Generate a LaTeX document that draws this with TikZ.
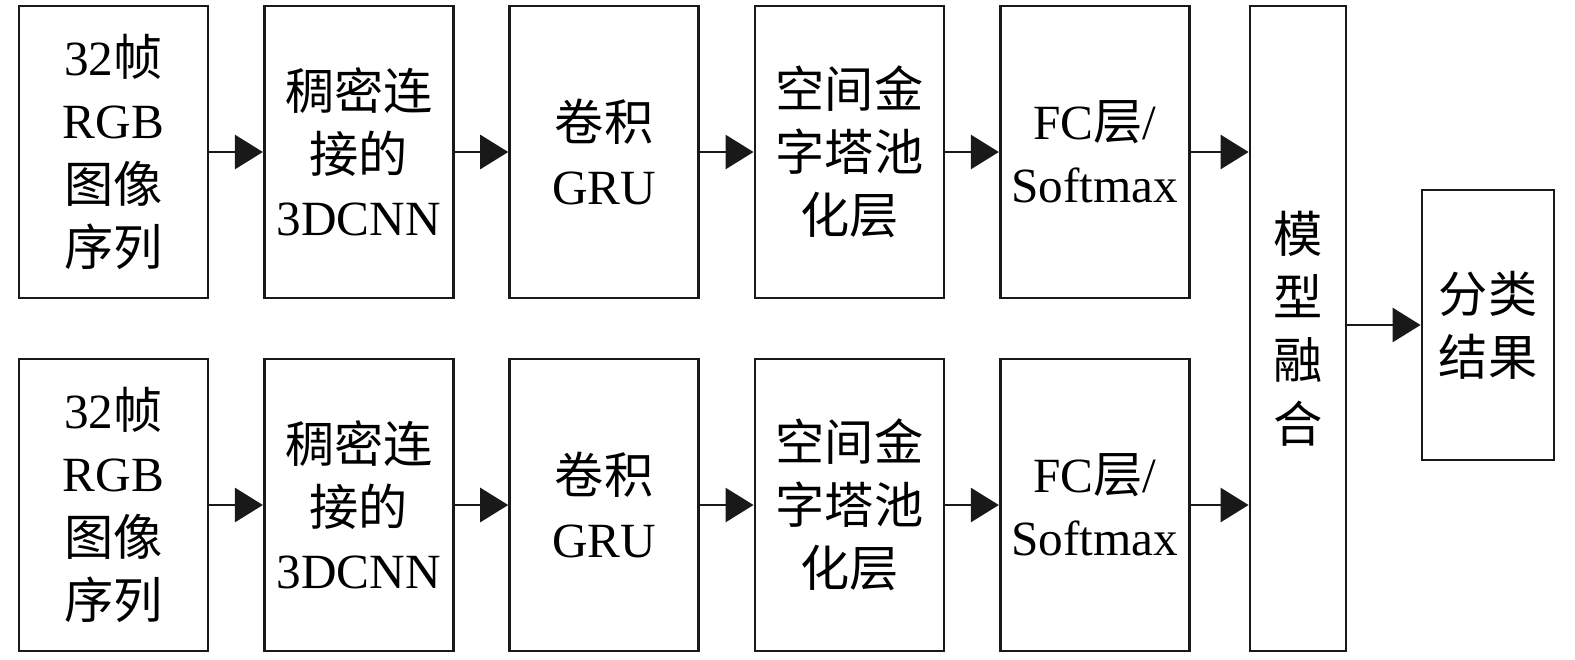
\documentclass[tikz,border=0pt]{standalone}
\usepackage{fontspec}
\setmainfont{Liberation Serif}
\newfontfamily\cjk{Noto Sans CJK SC}
\usetikzlibrary{arrows.meta,positioning}

\begin{document}
\begin{tikzpicture}[
  box/.style={draw=black!90,line width=1.6pt,minimum width=3.78cm,minimum height=5.84cm,
    inner sep=0pt,align=center,font=\fontsize{28}{36}\selectfont},
  flow/.style={line width=1.6pt,draw=black!90,-{Triangle[length=0.56cm,width=0.68cm]}},
  node distance=1.07cm
]
\useasboundingbox (0,0) rectangle (31.5,-13.18);

% upper branch
\node[box] (inA) at (2.27,-3.04) {32{\cjk 帧}\\RGB\\{\cjk 图像}\\{\cjk 序列}};
\node[box,right=of inA] (denseA) {{\cjk 稠密连}\\{\cjk 接的}\\3DCNN};
\node[box,right=of denseA] (gruA) {{\cjk 卷积}\\GRU};
\node[box,right=of gruA] (sppA) {{\cjk 空间金}\\{\cjk 字塔池}\\{\cjk 化层}};
\node[box,right=of sppA] (fcA) {FC{\cjk 层}/\\Softmax};

% lower branch
\node[box] (inB) at (2.27,-10.10) {32{\cjk 帧}\\RGB\\{\cjk 图像}\\{\cjk 序列}};
\node[box,right=of inB] (denseB) {{\cjk 稠密连}\\{\cjk 接的}\\3DCNN};
\node[box,right=of denseB] (gruB) {{\cjk 卷积}\\GRU};
\node[box,right=of gruB] (sppB) {{\cjk 空间金}\\{\cjk 字塔池}\\{\cjk 化层}};
\node[box,right=of sppB] (fcB) {FC{\cjk 层}/\\Softmax};

% fusion and result
\node[box,minimum width=1.92cm,minimum height=12.9cm] (fuse) at (25.96,-6.57)
  {{\cjk 模}\\{\cjk 型}\\{\cjk 融}\\{\cjk 合}};
\node[box,minimum width=2.64cm,minimum height=5.4cm] (result) at (29.76,-6.5)
  {{\cjk 分类}\\{\cjk 结果}};

% connectors
\draw[flow] (inA) -- (denseA);
\draw[flow] (denseA) -- (gruA);
\draw[flow] (gruA) -- (sppA);
\draw[flow] (sppA) -- (fcA);
\draw[flow] (fcA) -- (fcA -| fuse.west);
\draw[flow] (inB) -- (denseB);
\draw[flow] (denseB) -- (gruB);
\draw[flow] (gruB) -- (sppB);
\draw[flow] (sppB) -- (fcB);
\draw[flow] (fcB) -- (fcB -| fuse.west);
\draw[flow] (fuse.east |- result) -- (result);
\end{tikzpicture}
\end{document}
